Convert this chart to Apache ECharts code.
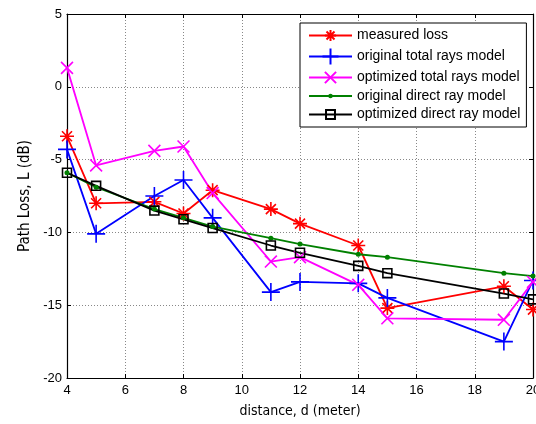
<!DOCTYPE html>
<html><head><meta charset="utf-8">
<script src="https://cdn.jsdelivr.net/npm/echarts@6/dist/echarts.min.js"></script>
<style>html,body{margin:0;padding:0;background:#fff}#c{width:536px;height:424px}</style>
</head><body><div id="c"></div>
<script>
var distance = [4, 5, 7, 8, 9, 11, 12, 14, 15, 19, 20];
var measuredLoss = [-3.4, -8.0, -7.9, -8.7, -7.1, -8.4, -9.4, -10.9, -15.2, -13.7, -15.3];
var origTotal = [-4.3, -10.1, -7.5, -6.4, -9.0, -14.1, -13.4, -13.5, -14.5, -17.5, -13.3];
var optTotal = [1.3, -5.4, -4.4, -4.1, -7.3, -12.0, -11.7, -13.6, -15.9, -16.0, -13.4];
var origDirect = [-5.9, -6.9, -8.4, -9.0, -9.6, -10.4, -10.8, -11.5, -11.7, -12.8, -13.0];
var optDirect = [-5.9, -6.8, -8.5, -9.1, -9.7, -10.9, -11.4, -12.3, -12.8, -14.2, -14.6];
var seriesNames = ['measured loss', 'original total rays model', 'optimized total rays model', 'original direct ray model', 'optimized direct ray model'];
var xTicks = [4, 6, 8, 10, 12, 14, 16, 18, 20];
var yTicks = [-20, -15, -10, -5, 0, 5];

function pairs(v) { return distance.map(function (d, i) { return [d, v[i]]; }); }

// glyphs drawn inside a fixed -10..10 box so that legend & plot sizes can differ
var BOX = 'M-10,-10M10,10';
var STAR = 'path://' + BOX + 'M0,-7L0,7M-7,0L7,0M-5,-5L5,5M-5,5L5,-5';
var PLUS = 'path://' + BOX + 'M0,-10L0,10M-10,0L10,0';
var CROSS = 'path://' + BOX + 'M-7,-7L7,7M-7,7L7,-7';
var DOT = 'path://' + BOX + 'M-2.8,0A2.8,2.8 0 1,1 2.8,0A2.8,2.8 0 1,1 -2.8,0Z';
var SQUARE = 'path://' + BOX + 'M-5.6,-5.6L5.6,-5.6L5.6,5.6L-5.6,5.6Z';

function mk(name, data, color, symbol, size, fillSym) {
  return {
    name: name, type: 'line', data: pairs(data), symbol: symbol, symbolSize: size,
    lineStyle: { color: color, width: 1.8 },
    itemStyle: fillSym ? { color: color, borderColor: color, borderWidth: 0 } : { color: 'none', borderColor: color, borderWidth: 1.6 },
    emphasis: { disabled: true }, animation: false, z: 3
  };
}

var chart = echarts.init(document.getElementById('c'), null, { renderer: 'canvas' });
var fam = 'Liberation Sans, Arial, sans-serif';
var narrow = 'DejaVu Sans Condensed, Liberation Sans Narrow, Arial Narrow, sans-serif';
chart.setOption({
  animation: false,
  backgroundColor: '#fff',
  grid: { left: 67, right: 3, top: 14, bottom: 46, containLabel: false, outerBoundsMode: 'none' },
  legend: {
    data: seriesNames, orient: 'vertical', left: 300, top: 23,
    itemWidth: 43, itemHeight: 20, itemGap: 0, itemStyle: {},
    backgroundColor: '#fff', borderColor: '#000', borderWidth: 1,
    padding: [2, 6, 2, 8],
    textStyle: { fontFamily: fam, fontSize: 14, color: '#000' },
    selectedMode: false
  },
  xAxis: [{
    type: 'value', min: 4, max: 20, interval: 2, position: 'bottom',
    axisLine: { show: true, onZero: false, lineStyle: { color: '#000', width: 1.2 } },
    axisTick: { show: true, inside: true, length: 4, lineStyle: { color: '#000' } },
    axisLabel: { color: '#000', fontFamily: fam, fontSize: 13, margin: 6 },
    splitLine: { show: true, lineStyle: { color: '#888', type: [1, 2], width: 1 } },
    name: 'distance, d (meter)', nameLocation: 'middle', nameGap: 26,
    nameTextStyle: { fontFamily: narrow, fontSize: 14, color: '#000' }
  }, {
    type: 'value', min: 4, max: 20, interval: 2, position: 'top',
    axisLine: { show: true, onZero: false, lineStyle: { color: '#000', width: 1.2 } },
    axisTick: { show: true, inside: true, length: 4, lineStyle: { color: '#000' } },
    axisLabel: { show: false }, splitLine: { show: false }
  }],
  yAxis: [{
    type: 'value', min: -20, max: 5, interval: 5, position: 'left',
    axisLine: { show: true, onZero: false, lineStyle: { color: '#000', width: 1.2 } },
    axisTick: { show: true, inside: true, length: 4, lineStyle: { color: '#000' } },
    axisLabel: { color: '#000', fontFamily: fam, fontSize: 13, margin: 5 },
    splitLine: { show: true, lineStyle: { color: '#888', type: [1, 2], width: 1 } },
    name: 'Path Loss, L (dB)', nameLocation: 'middle', nameGap: 34, nameRotate: 90,
    nameTextStyle: { fontFamily: narrow, fontSize: 15, color: '#000' }
  }, {
    type: 'value', min: -20, max: 5, interval: 5, position: 'right',
    axisLine: { show: true, onZero: false, lineStyle: { color: '#000', width: 1.2 } },
    axisTick: { show: true, inside: true, length: 4, lineStyle: { color: '#000' } },
    axisLabel: { show: false }, splitLine: { show: false }
  }],
  series: [
    mk(seriesNames[0], measuredLoss, '#ff0000', STAR, 20, false),
    mk(seriesNames[1], origTotal, '#0000ff', PLUS, 18, false),
    mk(seriesNames[2], optTotal, '#ff00ff', CROSS, 17, false),
    mk(seriesNames[3], origDirect, '#008000', DOT, 18, true),
    mk(seriesNames[4], optDirect, '#000000', SQUARE, 16, false)
  ]
});
</script></body></html>
